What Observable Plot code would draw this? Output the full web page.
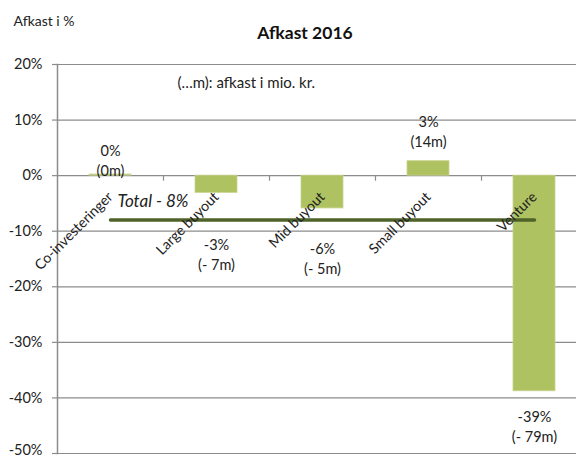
<!DOCTYPE html>
<html>
<head>
<meta charset="utf-8">
<script src="https://cdn.jsdelivr.net/npm/d3@7"></script>
<script src="https://cdn.jsdelivr.net/npm/@observablehq/plot@0.6"></script>
<style>
  html, body { margin: 0; padding: 0; background: #fff; }
  svg { display: block; }
</style>
</head>
<body>
<div id="chart"></div>
<script>
// ---- data ----
const categories = ["Co-investeringer", "Large buyout", "Mid buyout", "Small buyout", "Venture"];
const returns = [0.2, -3.1, -5.9, 2.6, -38.8];          // bar heights, %
const returnLabels = [0, -3, -6, 3, -39];               // displayed %, rounded
const amounts = [0, -7, -5, 14, -79];                   // mio. kr.
const totalReturn = -8;                                 // %
const yTicks = [20, 10, 0, -10, -20, -30, -40, -50];

const rows = categories.map((c, i) => ({
  cat: c, v: returns[i],
  label: `${returnLabels[i]}%\n(${amounts[i] < 0 ? "- " + Math.abs(amounts[i]) : amounts[i]}m)`
}));

const font = "Lato, 'Open Sans', sans-serif";
const barFill = "#afc261";
const lineCol = "#4f6228";
const gridCol = "#8c8c8c";
// label vertical offsets (px) relative to bar end
const labelDy = [-15, 61, 49, -31, 34];

const labelMarks = rows.map((r, i) =>
  Plot.text([r], {x: "cat", y: "v", text: "label", dy: labelDy[i],
    fontSize: 14.5, lineHeight: 1.38, fill: "#222", fontFamily: font})
);

const chart = Plot.plot({
  width: 576,
  height: 458,
  marginTop: 64,
  marginBottom: 5,
  marginLeft: 57,
  marginRight: 0,
  style: {fontFamily: font, background: "#fff", overflow: "visible"},
  x: {domain: categories, range: [57, 587], paddingInner: 0.6, paddingOuter: 0.3, axis: null},
  y: {domain: [-50, 20], axis: null},
  marks: [
    Plot.ruleY(yTicks, {stroke: gridCol, strokeWidth: 1.2}),
    Plot.axisY(yTicks, {label: null, tickSize: 5, tickPadding: 10, tickFormat: d => d + "%",
      text: null, stroke: gridCol, strokeWidth: 1.2}),
    Plot.axisY(yTicks.slice(0, -1), {label: null, tickSize: 0, tickPadding: 15, tickFormat: d => d + "%",
      fontSize: 14.5, fill: "#222"}),
    Plot.axisY(yTicks.slice(-1), {label: null, tickSize: 0, tickPadding: 15, tickFormat: d => d + "%",
      fontSize: 14.5, fill: "#222", dy: -3}),
    Plot.frame({anchor: "left", stroke: gridCol, strokeWidth: 1.5}),
    Plot.ruleX(categories.slice(1), {x: d => d, y1: 0, y2: -1, dx: -53, stroke: gridCol, strokeWidth: 1.2}),
    Plot.barY(rows, {x: "cat", y1: 0, y2: "v", fill: barFill, stroke: "#c8d48f", strokeWidth: 0.8}),
    Plot.line([{cat: categories[0], v: totalReturn}, {cat: categories[categories.length - 1], v: totalReturn}],
      {x: "cat", y: "v", stroke: lineCol, strokeWidth: 3.5}),
    Plot.text(categories, {x: d => d, y: 0, dy: 19, dx: 0, rotate: -45, textAnchor: "end",
      fontSize: 14.2, fill: "#222", fontFamily: font}),
    ...labelMarks,
    Plot.text([{cat: categories[0], v: totalReturn, t: "Total - 8%"}], {x: "cat", y: "v", text: "t",
      dx: 7, dy: -19, textAnchor: "start",
      fontSize: 17, fontStyle: "italic", fill: "#222", fontFamily: font}),
    Plot.text(["(…m): afkast i mio. kr."], {frameAnchor: "top-left", lineAnchor: "middle", dx: 120, dy: 19,
      textAnchor: "start", fontSize: 15, fill: "#222", fontFamily: font}),
    Plot.text(["Afkast 2016"], {frameAnchor: "top", lineAnchor: "middle", dx: -12, dy: -31,
      fontSize: 17.5, fontWeight: "bold", fill: "#111", fontFamily: font}),
    Plot.text(["Afkast i %"], {frameAnchor: "top-left", lineAnchor: "middle", dx: -44, dy: -43,
      textAnchor: "start", fontSize: 14, fill: "#222", fontFamily: font})
  ]
});
document.getElementById("chart").appendChild(chart);
</script>
</body>
</html>
